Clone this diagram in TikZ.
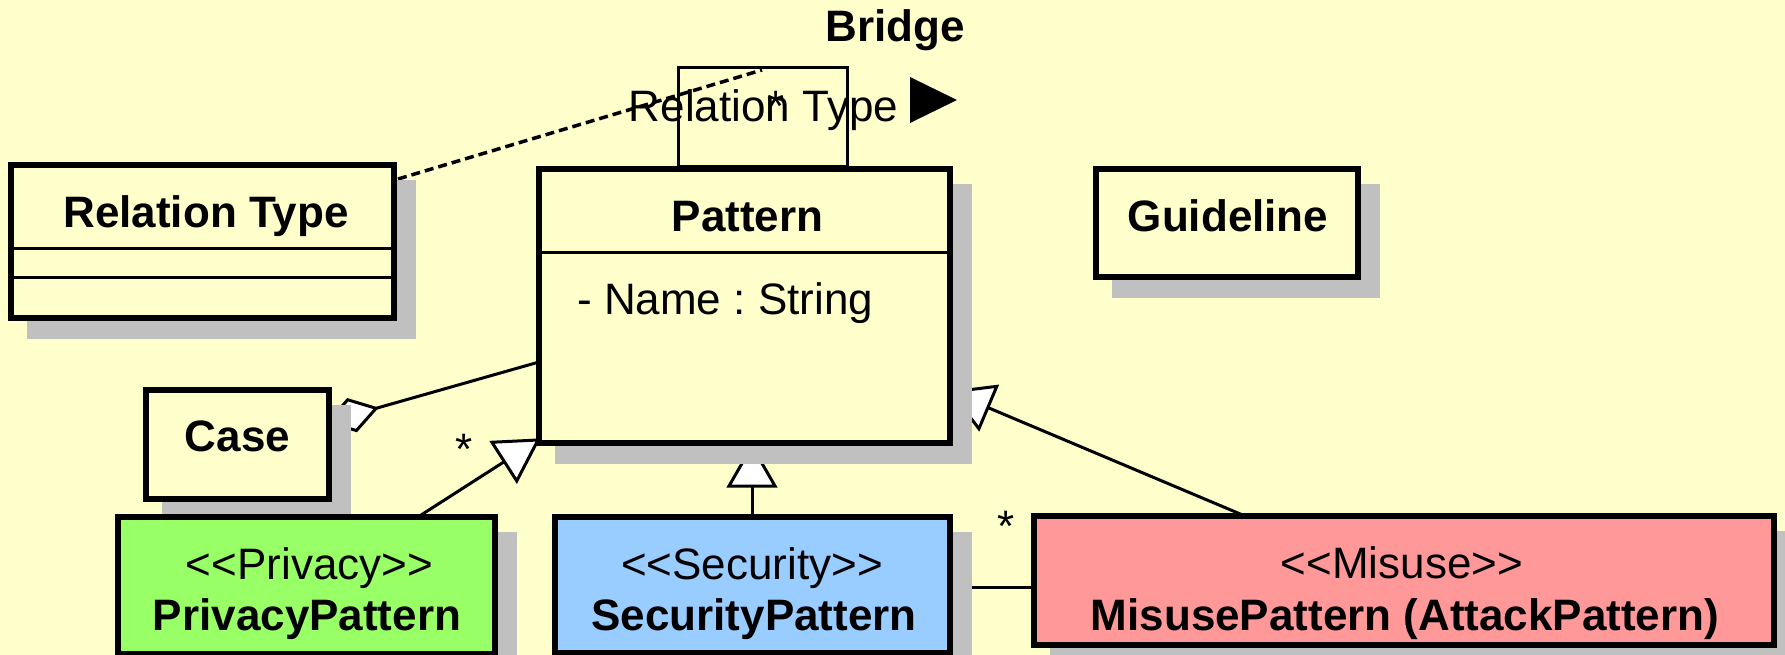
\documentclass[tikz,border=0pt]{standalone}
\usepackage{fontspec}
\setmainfont{Liberation Sans}
\usetikzlibrary{calc}
\definecolor{bgyellow}{HTML}{FFFFCC}
\definecolor{shadegray}{HTML}{C0C0C0}
\definecolor{privgreen}{HTML}{99FF66}
\definecolor{secblue}{HTML}{99CCFF}
\definecolor{misred}{HTML}{FF9999}
\pgfdeclarelayer{background}
\pgfdeclarelayer{conn}
\pgfdeclarelayer{shade}
\pgfsetlayers{background,conn,shade,main}
\frenchspacing
\newcommand{\genarrow}[2]{%
  \coordinate (gbase) at ($(#2)!40pt!(#1)$);
  \draw[connline] (#1) -- (gbase);
  \filldraw[connline, fill=white] (#2) -- ($(gbase)!23pt!90:(#2)$) -- ($(gbase)!23pt!-90:(#2)$) -- cycle;
}
\newcommand{\boxshade}[1]{%
  \fill[shadegray] ($(#1.north west)+(16,15)$) rectangle ($(#1.south east)+(22,21)$);
}
\begin{document}
\begin{tikzpicture}[x=1pt,y=-1pt,
  umlbox/.style={draw=black, line width=6pt, fill=bgyellow, inner sep=0pt, outer sep=0pt, rectangle},
  connline/.style={draw=black, line width=3pt},
  rtxt/.style={font=\fontsize{44}{52}\selectfont\frenchspacing, inner sep=0pt, anchor=base},
  btxt/.style={font=\fontsize{44}{52}\selectfont\bfseries, inner sep=0pt, anchor=base}]
\useasboundingbox (0,0) rectangle (1785,655);
\begin{pgfonlayer}{background}
  \fill[bgyellow] (0,0) rectangle (1785,655);
\end{pgfonlayer}

% Bridge box (thin, behind Pattern)
\node[draw=black, line width=3pt, inner sep=0pt, outer sep=0pt, minimum width=169pt, minimum height=99pt] (bridge) at (763,117) {};

% Class boxes
\node[umlbox, minimum width=383pt, minimum height=153pt] (rt) at (202.5,241.5) {};
\node[umlbox, minimum width=411pt, minimum height=274pt] (pattern) at (744.5,306) {};
\node[umlbox, minimum width=262pt, minimum height=108pt] (guide) at (1227,223) {};
\node[umlbox, minimum width=183pt, minimum height=109pt] (case) at (237.5,444.5) {};
\node[umlbox, fill=privgreen, minimum width=377pt, minimum height=137pt] (privacy) at (306.5,585.5) {};
\node[umlbox, fill=secblue, minimum width=395pt, minimum height=136pt] (security) at (752.5,585) {};
\node[umlbox, fill=misred, minimum width=740pt, minimum height=129pt] (misuse) at (1404,580.5) {};

% compartments
\draw[line width=3pt] ($(rt.north west)+(0,83)$) -- ($(rt.north east)+(0,83)$);
\draw[line width=3pt] ($(rt.north west)+(0,112)$) -- ($(rt.north east)+(0,112)$);
\draw[line width=3pt] ($(pattern.north west)+(0,83)$) -- ($(pattern.north east)+(0,83)$);

% shadows
\begin{pgfonlayer}{shade}
  \boxshade{rt}
  \boxshade{pattern}
  \boxshade{guide}
  \boxshade{case}
  \boxshade{privacy}
  \boxshade{security}
  \boxshade{misuse}
\end{pgfonlayer}

% texts
\node[btxt] (rt-title) at (206,227) {Relation Type};
\node[btxt] (pt-title) at (747.5,231) {Pattern};
\node[rtxt, anchor=base west] (pt-attr) at (577,314) {- Name : String};
\node[btxt] (gl-title) at (1228,231) {Guideline};
\node[btxt] (case-title) at (237.5,451) {Case};
\node[rtxt] (pv-st) at (309.5,579) {<{}<Privacy>{}>};
\node[btxt] (pv-title) at (307,630) {PrivacyPattern};
\node[rtxt] (sc-st) at (752,579) {<{}<Security>{}>};
\node[btxt] (sc-title) at (754,630) {SecurityPattern};
\node[rtxt] (ms-st) at (1402,578) {<{}<Misuse>{}>};
\node[btxt] (ms-title) at (1405,630) {MisusePattern (AttackPattern)};
\node[btxt] (br-title) at (895,42) {Bridge};
\node[rtxt] (br-label) at (763.5,122) {Relation Type};
\node[rtxt] (star-br) at (776,122) {*};
\node[rtxt] (star-pv) at (464,464.5) {*};
\node[rtxt] (star-ms) at (1006,541.5) {*};
\fill[black] (910,77) -- (910,123) -- (957,100) -- cycle;

% connectors
\begin{pgfonlayer}{conn}
  % dashed link to bridge
  \draw[connline, line width=3.5pt, dash pattern=on 9pt off 5pt] ($(rt.north east)+(4,14)$) -- ($(bridge.north west)+(83.5,2.5)$);
  % aggregation Case - Pattern
  \coordinate (agL) at ($(case.north east)+(-1,32)$);
  \coordinate (agP) at ($(pattern.north west)+(0,193)$);
  \coordinate (agR) at ($(agL)!50pt!(agP)$);
  \coordinate (agC) at ($(agL)!25pt!(agP)$);
  \draw[connline] (agR) -- (agP);
  \filldraw[connline, fill=white] (agL) -- ($(agC)!16pt!90:(agP)$) -- (agR) -- ($(agC)!16pt!-90:(agP)$) -- cycle;
  % generalizations
  \coordinate (pvTop) at ($(privacy.north west)+(300,0)$);
  \coordinate (pvTip) at ($(pattern.south west)+(-1,-3)$);
  \genarrow{pvTop}{pvTip}
  \coordinate (scTop) at ($(security.north west)+(197,0)$);
  \coordinate (scTip) at ($(pattern.south west)+(213,3)$);
  \genarrow{scTop}{scTip}
  \coordinate (msTop) at ($(misuse.north west)+(211,0)$);
  \coordinate (msTip) at ($(pattern.north east)+(1,223)$);
  \genarrow{msTop}{msTip}
  % association Security - Misuse
  \draw[connline] ($(security.north east)+(0,70)$) -- ($(misuse.north west)+(0,71)$);
\end{pgfonlayer}
\end{tikzpicture}
\end{document}
